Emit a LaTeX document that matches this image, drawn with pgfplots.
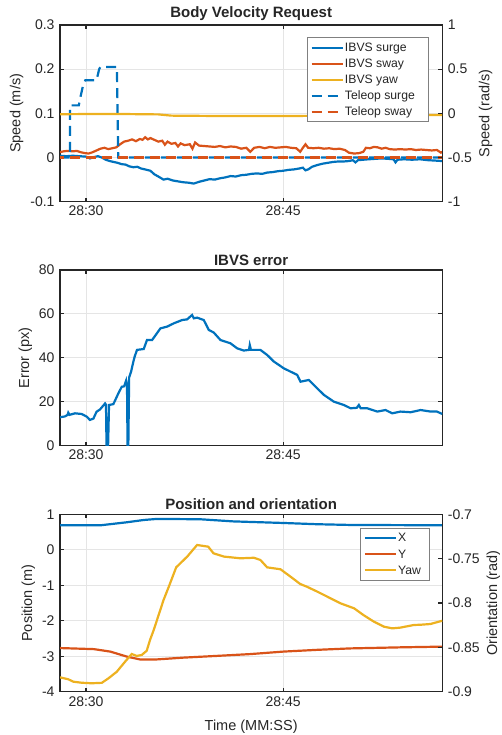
\documentclass[border=0pt]{standalone}
\usepackage{pgfplots}
\pgfplotsset{compat=1.18}
\usepackage{fontspec}
\setmainfont{Liberation Sans}

\definecolor{mblue}{rgb}{0,0.447,0.741}
\definecolor{morange}{rgb}{0.85,0.325,0.098}
\definecolor{myellow}{rgb}{0.929,0.694,0.125}
\newcommand\tickfont{\fontsize{14}{16}\selectfont}
\newcommand\labfont{\fontsize{14.5}{17}\selectfont}
\newcommand\titfont{\fontsize{15}{18}\selectfont\bfseries}
\newcommand\legfont{\fontsize{12.2}{14}\selectfont}

\pgfplotsset{
  base/.style={
    scale only axis, width=382.3pt, anchor=south west,
    xmin=28.02, xmax=57.11, xtick={30,45}, xticklabels={28:30,28:45},
    tick align=inside, major tick length=4pt,
    axis line style={black!85, line width=1.4pt},
    every tick/.style={black!85, line width=1.2pt},
    tick label style={font=\tickfont, text=black!85},
    label style={font=\labfont, text=black!85},
    title style={font=\titfont, text=black!85, yshift=-5pt},
    grid style={black!10, line width=0.8pt},
    xticklabel style={yshift=-1pt},
    xlabel style={yshift=-7pt},
  },
  leftax/.style={base, grid=major, ytick pos=left, yticklabel pos=left,
    yticklabel style={xshift=-2pt}},
  rightax/.style={base, axis x line=none, axis y line*=right,
    ytick pos=right, yticklabel pos=right, ylabel near ticks,
    yticklabel style={xshift=2pt},
    ylabel style={font=\labfont, text=black!85}},
  leg/.style={
    legend cell align=left,
    legend image code/.code={\draw[##1] (0pt,0pt) -- (31pt,0pt);},
    legend style={draw=black!50, line width=0.9pt, fill=white, font=\legfont,
      text=black!85, inner xsep=3pt, inner ysep=3pt, row sep=2.3pt,
      nodes={inner sep=1.2pt, text height=9.6pt, text depth=1.8pt}},
  },
  ln/.style={line width=2.2pt},
  dsh/.style={line width=2.2pt, dash pattern=on 10pt off 6pt},
}

\begin{document}
\begin{tikzpicture}
\useasboundingbox (0,0) rectangle (502pt,735pt);

% ---------- panel 1: body velocity request ----------
\begin{axis}[leftax, at={(60pt,533.3pt)}, height=176.7pt,
  ymin=-0.1, ymax=0.3, ytick={-0.1,0,0.1,0.2,0.3},
  yticklabels={-0.1,0,0.1,0.2,0.3},
  ylabel={Speed (m/s)}, title={Body Velocity Request}]
% IBVS surge
\addplot[ln, mblue] coordinates {
(28.0,0.004) (28.5,0.003) (29.0,0.004) (29.5,0.003) (30.0,0.002) (30.3,-0.002)
(30.6,0.001) (30.9,0.003) (31.2,0.000) (31.5,-0.005) (31.8,-0.008) (32.1,-0.010)
(32.4,-0.012) (32.7,-0.015) (33.0,-0.016) (33.3,-0.020) (33.6,-0.022) (33.9,-0.021)
(34.2,-0.025) (34.5,-0.027) (34.9,-0.030) (35.2,-0.038) (35.5,-0.043) (35.9,-0.050)
(36.2,-0.048) (36.6,-0.052) (37.0,-0.054) (37.4,-0.056) (37.8,-0.057) (38.2,-0.059)
(38.6,-0.055) (39.0,-0.052) (39.4,-0.049) (39.8,-0.050) (40.2,-0.047) (40.6,-0.045)
(41.0,-0.042) (41.4,-0.043) (41.8,-0.040) (42.2,-0.039) (42.6,-0.037) (43.0,-0.036)
(43.4,-0.037) (43.8,-0.034) (44.2,-0.033) (44.6,-0.031) (45.0,-0.030) (45.4,-0.028)
(45.8,-0.027) (46.2,-0.025) (46.5,-0.023) (46.7,-0.029) (46.9,-0.027) (47.2,-0.021)
(47.6,-0.017) (48.0,-0.014) (48.4,-0.012) (48.8,-0.010) (49.2,-0.009) (49.6,-0.009)
(50.0,-0.008) (50.3,-0.006) (50.5,-0.011) (50.7,-0.006) (51.1,-0.005) (51.5,-0.004)
(52.0,-0.003) (52.5,-0.002) (53.0,-0.003) (53.4,-0.004) (53.55,-0.011) (53.7,-0.005)
(54.2,-0.004) (54.8,-0.005) (55.4,-0.004) (56.0,-0.006) (56.6,-0.007) (57.1,-0.008)};
% IBVS sway
\addplot[ln, morange] coordinates {
(28.0,0.012) (28.3,0.014) (28.6,0.015) (29.0,0.014) (29.3,0.015) (29.6,0.012)
(29.9,0.010) (30.2,0.009) (30.5,0.012) (30.8,0.016) (31.1,0.020) (31.4,0.022)
(31.7,0.019) (32.0,0.021) (32.3,0.023) (32.6,0.030) (32.9,0.036) (33.2,0.038)
(33.5,0.041) (33.8,0.037) (34.1,0.042) (34.3,0.040) (34.5,0.046) (34.7,0.041)
(34.9,0.044) (35.2,0.040) (35.5,0.036) (35.8,0.038) (36.0,0.029) (36.2,0.036)
(36.5,0.031) (36.8,0.033) (37.0,0.025) (37.2,0.032) (37.5,0.028) (37.9,0.030)
(38.1,0.020) (38.3,0.034) (38.6,0.027) (39.0,0.026) (39.4,0.025) (39.8,0.024)
(40.2,0.026) (40.6,0.023) (41.0,0.025) (41.4,0.024) (41.8,0.020) (42.2,0.022)
(42.5,0.013) (42.8,0.022) (43.2,0.024) (43.6,0.021) (44.0,0.024) (44.4,0.022)
(44.8,0.023) (45.2,0.024) (45.6,0.022) (46.0,0.021) (46.3,0.013) (46.5,0.022)
(46.7,0.030) (46.9,0.022) (47.3,0.021) (47.7,0.022) (48.1,0.020) (48.5,0.021)
(48.9,0.019) (49.3,0.020) (49.7,0.017) (50.0,0.011) (50.4,0.009) (50.8,0.010)
(51.1,0.013) (51.3,0.022) (51.6,0.021) (51.9,0.024) (52.2,0.023) (52.5,0.020)
(52.8,0.022) (53.1,0.019) (53.5,0.018) (53.9,0.019) (54.3,0.018) (54.7,0.019)
(55.1,0.017) (55.5,0.018) (55.9,0.017) (56.3,0.016) (56.7,0.017) (57.0,0.011)
(57.1,0.013)};
% Teleop surge
\addplot[dsh, mblue] coordinates {
(28.0,0) (28.78,0) (28.78,0.118) (29.45,0.118) (29.6,0.14) (29.75,0.16)
(29.95,0.175) (30.8,0.175) (31.0,0.2) (31.1,0.205) (32.35,0.205) (32.45,0)
(57.1,0)};
% Teleop sway
\addplot[dsh, morange, dash phase=6pt] coordinates {(28.0,0) (57.1,0)};
\end{axis}
\begin{axis}[rightax, leg, at={(60pt,533.3pt)}, height=176.7pt,
  ymin=-1, ymax=1, ytick={-1,-0.5,0,0.5,1}, yticklabels={-1,-0.5,0,0.5,1},
  ylabel={Speed (rad/s)},
  legend style={at={(1,1)}, anchor=north east, xshift=-13.3pt, yshift=-12.3pt}]
\addlegendimage{ln, mblue}\addlegendentry{IBVS surge}
\addlegendimage{ln, morange}\addlegendentry{IBVS sway}
% IBVS yaw (rad/s)
\addplot[ln, myellow] coordinates {
(28.0,-0.010) (30.0,-0.008) (33.0,-0.008) (35.5,-0.012) (36.5,-0.026)
(40.0,-0.030) (45.0,-0.030) (48.0,-0.028) (49.5,-0.020) (53.0,-0.019)
(57.1,-0.020)};
\addlegendentry{IBVS yaw}
\addlegendimage{dsh, mblue}\addlegendentry{Teleop surge\rule{9.5pt}{0pt}}
\addlegendimage{dsh, morange}\addlegendentry{Teleop sway}
\end{axis}

% ---------- panel 2: IBVS error ----------
\begin{axis}[base, grid=major, at={(60pt,289.4pt)}, height=175.6pt,
  ymin=0, ymax=80, ytick={0,20,40,60,80}, yticklabels={0,20,40,60,80},
  yticklabel style={xshift=-2pt},
  ylabel={Error (px)}, title={IBVS error}]
\addplot[ln, mblue] coordinates {
(28.02,12.9) (28.4,13.3) (28.6,14.0) (28.65,15.0) (28.75,14.0) (29.16,14.7)
(29.67,14.4) (30.05,13.2) (30.3,11.7) (30.56,12.3) (30.8,15.4) (31.07,16.5)
(31.45,19.2) (31.52,18.6) (31.56,0) (31.68,0) (31.75,18.5) (32.08,18.9)
(32.2,20.4) (32.46,23.8) (32.72,26.8) (32.9,27.0) (33.05,29.6) (33.12,27.0)
(33.16,0) (33.22,0) (33.28,31.0) (33.43,33.7) (33.6,38.2) (33.7,40.5)
(33.88,43.6) (34.39,44.0) (34.64,48.1) (35.03,48.1) (35.66,53.4) (36.17,54.2)
(36.68,55.7) (37.31,57.2) (37.69,57.5) (38.07,59.5) (38.2,58.0) (38.45,58.3)
(38.96,57.2) (39.34,52.7) (39.72,51.5) (40.23,48.1) (40.99,46.6) (41.5,44.3)
(42.0,43.3) (42.4,43.6) (42.46,45.8) (42.55,43.6) (43.27,43.6) (43.78,41.3)
(44.29,38.3) (45.05,35.2) (45.56,33.7) (46.07,32.2) (46.32,29.1) (46.95,29.9)
(47.59,26.1) (48.1,23.1) (48.86,20.0) (49.62,18.5) (50.13,17.0) (50.6,17.2)
(50.76,18.5) (50.9,17.0) (51.4,17.0) (52.16,15.5) (52.79,16.2) (53.3,14.7)
(53.93,15.5) (54.7,15.2) (55.46,16.2) (56.22,15.5) (56.7,15.5) (57.11,14.4)};
\end{axis}

% ---------- panel 3: position and orientation ----------
\begin{axis}[leftax, at={(60pt,43.3pt)}, height=177.4pt,
  ymin=-4, ymax=1, ytick={-4,-3,-2,-1,0,1}, yticklabels={-4,-3,-2,-1,0,1},
  ylabel={Position (m)}, xlabel={Time (MM:SS)},
  title={Position and orientation}]
% X
\addplot[ln, mblue] coordinates {
(28.02,0.69) (31.1,0.69) (33.1,0.775) (34.4,0.84) (35.4,0.87) (38.7,0.86)
(41.2,0.80) (45.05,0.755) (47.6,0.72) (50.1,0.70) (57.11,0.69)};
% Y
\addplot[ln, morange] coordinates {
(28.02,-2.77) (30.6,-2.80) (31.85,-2.87) (33.1,-3.01) (34.1,-3.09)
(35.4,-3.09) (37.4,-3.04) (40.0,-2.99) (42.5,-2.94) (45.0,-2.87)
(47.6,-2.82) (50.1,-2.78) (53.9,-2.75) (57.11,-2.73)};
\end{axis}
\begin{axis}[rightax, leg, at={(60pt,43.3pt)}, height=177.4pt,
  ymin=-0.9, ymax=-0.7, ytick={-0.9,-0.85,-0.8,-0.75,-0.7},
  yticklabels={-0.9,-0.85,-0.8,-0.75,-0.7},
  ylabel={Orientation (rad)},
  legend style={at={(1,1)}, anchor=north east, xshift=-12.7pt, yshift=-13.4pt}]
\addlegendimage{ln, mblue}\addlegendentry{X}
\addlegendimage{ln, morange}\addlegendentry{Y}
% Yaw (rad)
\addplot[ln, myellow] coordinates {
(28.02,-0.8838) (28.65,-0.8860) (29.03,-0.8887) (29.67,-0.8899) (30.43,-0.8905)
(31.2,-0.8900) (31.7,-0.8850) (32.34,-0.8775) (32.97,-0.8662) (33.48,-0.8575)
(33.86,-0.8597) (34.24,-0.8586) (34.62,-0.8538) (34.87,-0.8417) (35.15,-0.8305)
(35.9,-0.7966) (36.3,-0.7816) (36.86,-0.7598) (37.7,-0.7477) (38.45,-0.7346)
(39.3,-0.7365) (39.7,-0.7440) (40.5,-0.7477) (41.75,-0.7496) (42.77,-0.7490)
(43.27,-0.7515) (43.78,-0.7598) (44.8,-0.7620) (45.56,-0.7703) (46.3,-0.7786)
(46.8,-0.7816) (47.6,-0.7872) (48.35,-0.7928) (49.37,-0.8004) (50.4,-0.8060)
(51.1,-0.8135) (51.9,-0.8210) (52.67,-0.8267) (53.3,-0.8286) (53.9,-0.8278)
(54.95,-0.8248) (55.46,-0.8245) (56.2,-0.8237) (57.11,-0.8200)};
\addlegendentry{Yaw\rule{4pt}{0pt}}
\end{axis}
\end{tikzpicture}
\end{document}
